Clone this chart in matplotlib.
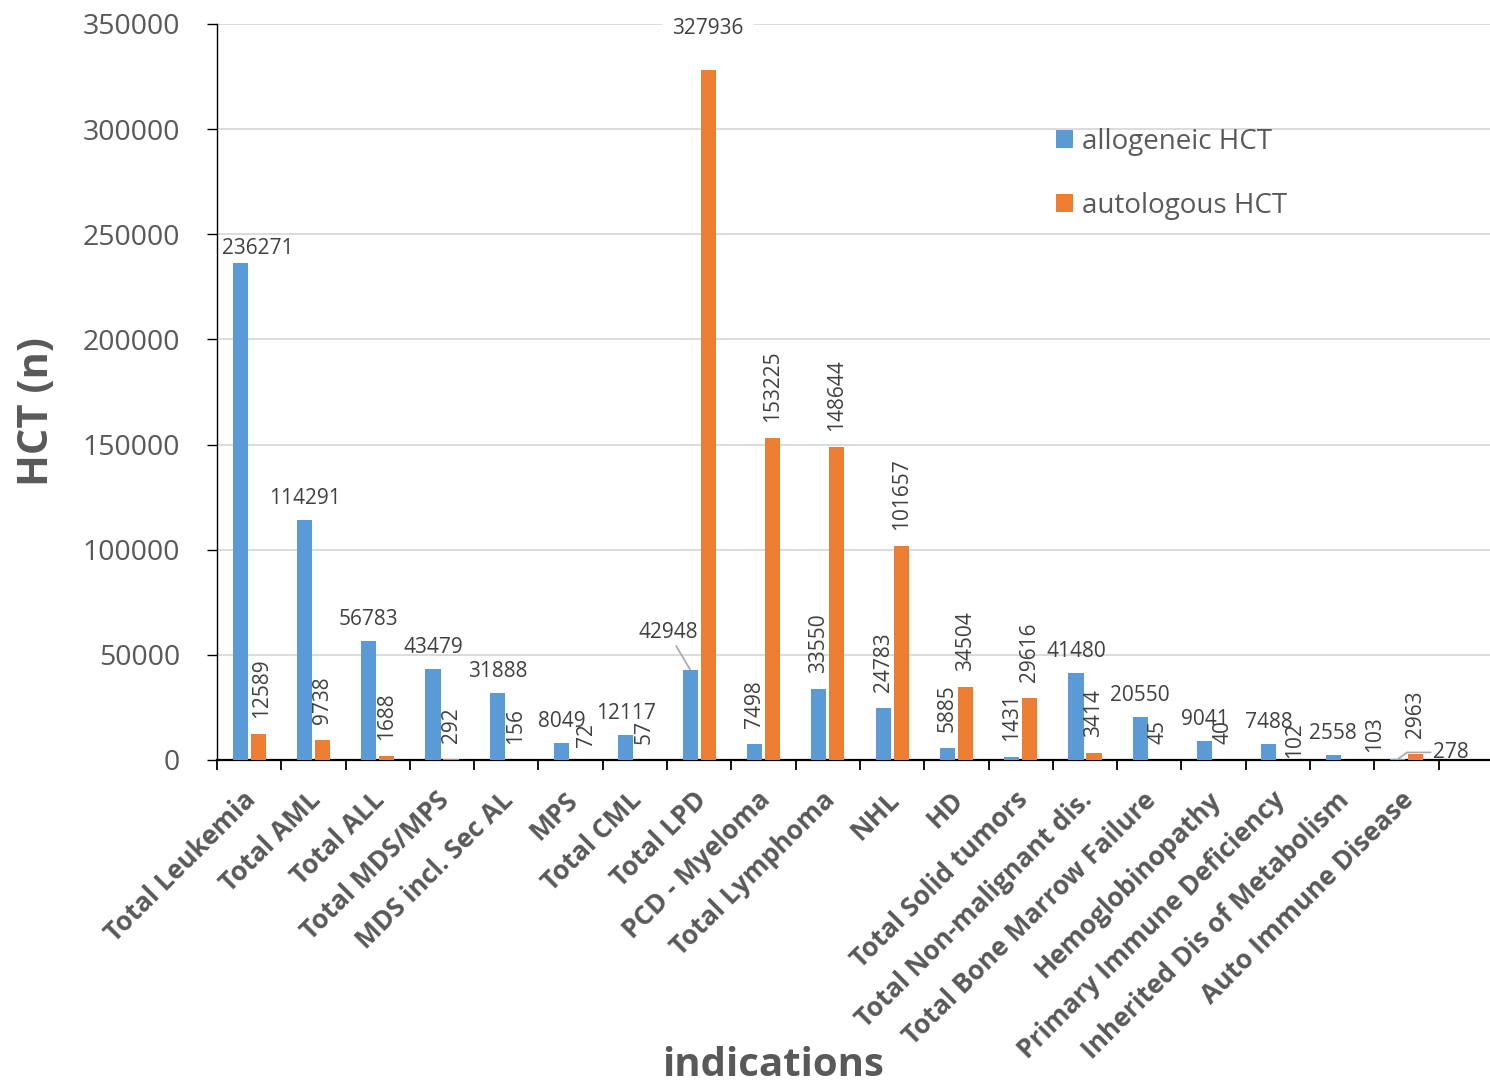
import numpy as np
import matplotlib
matplotlib.use("Agg")
import matplotlib.pyplot as plt
from matplotlib.transforms import ScaledTranslation

# ---- data -------------------------------------------------------------
categories = [
    "Total Leukemia", "Total AML", "Total ALL", "Total MDS/MPS",
    "MDS incl. Sec AL", "MPS", "Total CML", "Total LPD", "PCD - Myeloma",
    "Total Lymphoma", "NHL", "HD", "Total Solid tumors",
    "Total Non-malignant dis.", "Total Bone Marrow Failure",
    "Hemoglobinopathy", "Primary Immune Deficiency",
    "Inherited Dis of Metabolism", "Auto Immune Disease",
]
allogeneic = [236271, 114291, 56783, 43479, 31888, 8049, 12117, 42948, 7498,
              33550, 24783, 5885, 1431, 41480, 20550, 9041, 7488, 2558, 278]
autologous = [12589, 9738, 1688, 292, 156, 72, 57, 327936, 153225,
              148644, 101657, 34504, 29616, 3414, 45, 40, 102, 103, 2963]
y_ticks = [0, 50000, 100000, 150000, 200000, 250000, 300000, 350000]
series_names = ["allogeneic HCT", "autologous HCT"]

# ---- styling ----------------------------------------------------------
plt.rcParams["font.family"] = ["Open Sans", "DejaVu Sans"]
BLUE, ORANGE = "#5B9BD5", "#ED7D31"
AXIS_TXT, LBL_TXT, GRID = "#595959", "#404040", "#D9D9D9"
W, H, DPI = 1490, 1088, 100


def pt(pixels):
    """pixels -> points at the figure dpi"""
    return pixels * 72.0 / DPI


fig = plt.figure(figsize=(W / DPI, H / DPI), dpi=DPI)
ax = fig.add_axes([217 / W, 1 - 760 / H, 1273 / W, 736 / H])

x = np.arange(len(categories))
bw, off = 0.235, 0.14
ax.bar(x - off, allogeneic, bw, color=BLUE, label=series_names[0], zorder=3)
ax.bar(x + off, autologous, bw, color=ORANGE, label=series_names[1], zorder=3)

ax.set_xlim(-0.5, 19.3)
ax.set_ylim(y_ticks[0], y_ticks[-1])
ax.set_yticks(y_ticks)
ax.set_yticklabels([str(v) for v in y_ticks], fontsize=20.5, color=AXIS_TXT)
ax.yaxis.grid(True, color=GRID, lw=1.3, zorder=0)
ax.set_axisbelow(True)

for s in ("top", "right"):
    ax.spines[s].set_visible(False)
ax.spines["left"].set_linewidth(1.0)
ax.spines["bottom"].set_linewidth(1.6)
ax.tick_params(axis="y", length=pt(10), width=1.0, pad=pt(27))

# category labels at centres, tick marks at category boundaries
ax.set_xticks(x)
ax.set_xticklabels(categories, rotation=45, ha="right", va="center",
                   rotation_mode="anchor", fontsize=19, fontweight="bold",
                   color=AXIS_TXT)
ax.tick_params(axis="x", which="major", length=0, pad=pt(36))
ax.set_xticks(np.arange(-0.5, len(categories)), minor=True)
ax.tick_params(axis="x", which="minor", length=pt(10), width=1.3,
               direction="out")
shift = ScaledTranslation(pt(3) / 72, 0, fig.dpi_scale_trans)
for t in ax.get_xticklabels():
    t.set_transform(t.get_transform() + shift)

# ---- value labels -----------------------------------------------------
allo_rotated = [False] * 8 + [True] * 5 + [False] * 6
auto_rotated = [True] * 19
# nudges (pixels) for crowded labels of the autologous series
auto_nudge = {0: (3, 0), 5: (7, -3), 16: (8, -14), 17: (23, -8)}
lbl_kw = dict(textcoords="offset points", fontsize=15, color=LBL_TXT,
              zorder=5)


def value_label(xc, val, rotated, dx=0, dy=0):
    if rotated:
        ax.annotate(str(val), (xc, val), xytext=(pt(dx), pt(16 + dy)),
                    rotation=90, ha="center", va="bottom", **lbl_kw)
    else:
        ax.annotate(str(val), (xc, val), xytext=(pt(dx), pt(11 + dy)),
                    ha="center", va="bottom", **lbl_kw)


leader = dict(arrowstyle="-", color="#A6A6A6", lw=1.2,
              shrinkA=0, shrinkB=0)

for i, v in enumerate(allogeneic):
    xc = x[i] - off
    if i == 0:
        value_label(xc, v, False, dx=18, dy=-7)
    elif i == 7:
        ax.annotate(str(v), (xc, v), xytext=(pt(-22), pt(37)),
                    ha="center", va="center", arrowprops=leader, **lbl_kw)
    elif i == len(allogeneic) - 1:
        ax.annotate(str(v), (xc, v), xytext=(pt(36), pt(7)),
                    ha="left", va="center",
                    arrowprops=dict(leader, connectionstyle=
                                    "angle,angleA=0,angleB=36,rad=0"),
                    **lbl_kw)
    else:
        value_label(xc, v, allo_rotated[i])

for i, v in enumerate(autologous):
    xc = x[i] + off
    if i == 7:
        ax.annotate(str(v), (xc, v), xytext=(0, pt(42)), ha="center",
                    va="center",
                    bbox=dict(boxstyle="square,pad=0.5", fc="white",
                              ec="none"),
                    **lbl_kw)
    else:
        dx, dy = auto_nudge.get(i, (0, 0))
        value_label(xc, v, auto_rotated[i], dx, dy)

# ---- legend & axis titles ---------------------------------------------
ax.legend(loc="upper left", bbox_to_anchor=(1056 / W, 1 - 128 / H),
          bbox_transform=fig.transFigure, frameon=False, fontsize=20,
          handlelength=0.62, handleheight=0.62, handletextpad=0.3,
          labelspacing=1.3, borderpad=0, borderaxespad=0,
          labelcolor=AXIS_TXT)

fig.text(38 / W, 1 - 412 / H, "HCT (n)", rotation=90, ha="center",
         va="center", fontsize=30, fontweight="bold", color=AXIS_TXT)
fig.text(773 / W, 1 - 1066 / H, "indications", ha="center", va="center",
         fontsize=29, fontweight="bold", color=AXIS_TXT)

fig.savefig("out.png", dpi=DPI)
